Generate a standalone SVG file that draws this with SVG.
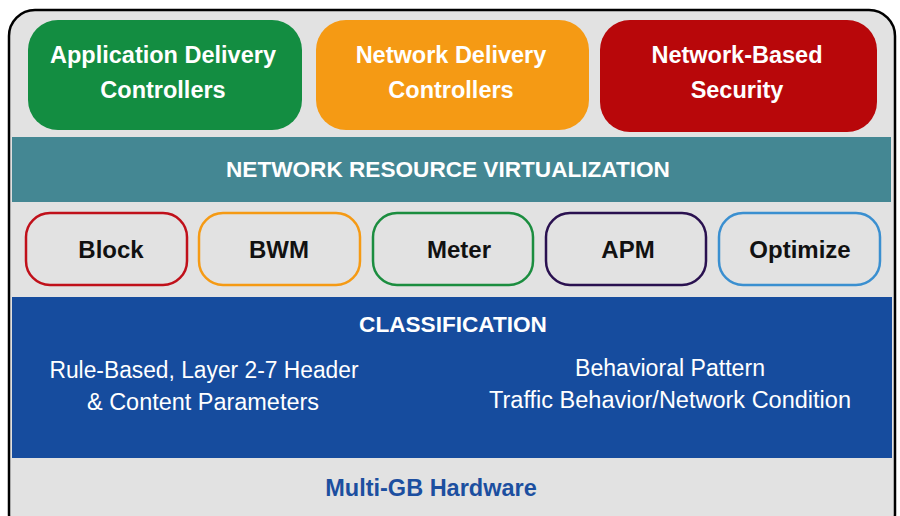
<svg xmlns="http://www.w3.org/2000/svg" width="900" height="516" viewBox="0 0 900 516">
<style>
.top{font-family:"Liberation Sans",Arial,sans-serif;font-weight:bold;font-size:23.5px;fill:#ffffff;text-anchor:middle}
.band{font-family:"Liberation Sans",Arial,sans-serif;font-weight:bold;font-size:22.6px;fill:#ffffff;text-anchor:middle}
.pill{fill:#e2e2e2;stroke-width:2.5}
.pt{font-family:"Liberation Sans",Arial,sans-serif;font-weight:bold;font-size:24px;fill:#111111;text-anchor:middle}
.cl{font-family:"Liberation Sans",Arial,sans-serif;font-size:23px;fill:#ffffff;text-anchor:middle}
</style>
<rect x="0" y="0" width="900" height="516" fill="#ffffff"/>
<rect id="frame" x="9" y="10" width="886" height="530" rx="26" fill="#e2e2e2" stroke="#000" stroke-width="2.5"/>
<g id="adc">
<rect x="28" y="20" width="274" height="110" rx="30" fill="#138d41"/>
<text class="top" x="163" y="63">Application Delivery</text>
<text class="top" x="163" y="98">Controllers</text>
</g>
<g id="ndc">
<rect x="316" y="20" width="273" height="110" rx="30" fill="#f59a14"/>
<text class="top" x="451" y="63">Network Delivery</text>
<text class="top" x="451" y="98">Controllers</text>
</g>
<g id="nbs">
<rect x="600" y="20" width="277" height="112" rx="30" fill="#b8070a"/>
<text class="top" x="737" y="63">Network-Based</text>
<text class="top" x="737" y="98">Security</text>
</g>
<g id="nrv">
<rect x="12" y="137" width="879" height="65" fill="#448793"/>
<text class="band" x="448" y="177">NETWORK RESOURCE VIRTUALIZATION</text>
</g>
<g id="block">
<rect class="pill" x="26" y="213" width="161" height="72" rx="24" stroke="#c0101a"/>
<text class="pt" x="111" y="258">Block</text>
</g>
<g id="bwm">
<rect class="pill" x="199" y="213" width="161" height="72" rx="24" stroke="#f59a14"/>
<text class="pt" x="279" y="258">BWM</text>
</g>
<g id="meter">
<rect class="pill" x="373" y="213" width="160" height="72" rx="24" stroke="#1b8d3f"/>
<text class="pt" x="459" y="258">Meter</text>
</g>
<g id="apm">
<rect class="pill" x="546" y="213" width="160" height="72" rx="24" stroke="#2a1150"/>
<text class="pt" x="628" y="258">APM</text>
</g>
<g id="optimize">
<rect class="pill" x="719" y="213" width="161" height="72" rx="24" stroke="#3a8fd0"/>
<text class="pt" x="800" y="258">Optimize</text>
</g>
<g id="classification">
<rect x="12" y="297" width="880" height="161" fill="#164c9e"/>
<text class="band" x="453" y="332">CLASSIFICATION</text>
<text class="cl" x="204" y="378" textLength="309" lengthAdjust="spacingAndGlyphs">Rule-Based, Layer 2-7 Header</text>
<text class="cl" x="203" y="410" textLength="232" lengthAdjust="spacingAndGlyphs">&amp; Content Parameters</text>
<text class="cl" x="670" y="376" textLength="190" lengthAdjust="spacingAndGlyphs">Behavioral Pattern</text>
<text class="cl" x="670" y="408" textLength="362" lengthAdjust="spacingAndGlyphs">Traffic Behavior/Network Condition</text>
</g>
<g id="hardware">
<text x="431" y="496" font-family="Liberation Sans, Arial, sans-serif" font-weight="bold" font-size="23.5" fill="#1c4fa0" text-anchor="middle">Multi-GB Hardware</text>
</g>
<g id="connectors"></g>
</svg>
